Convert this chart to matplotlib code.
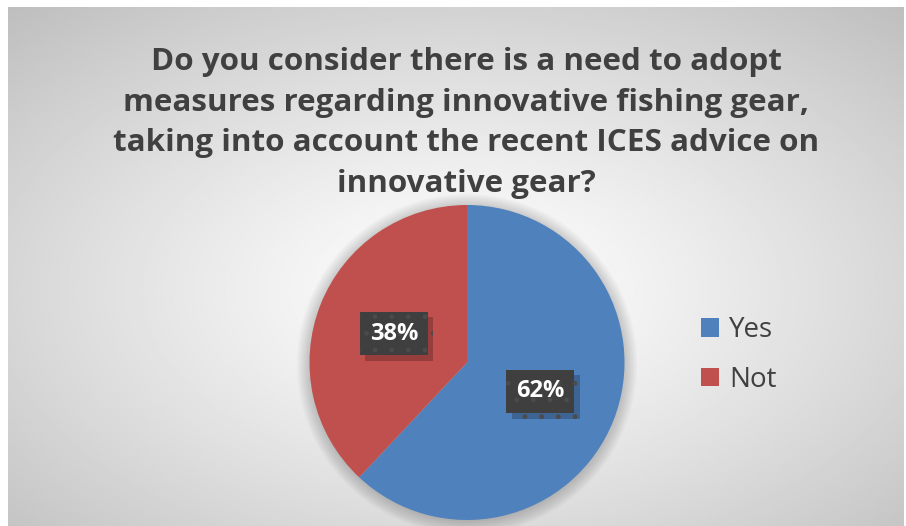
import numpy as np
import matplotlib
matplotlib.use("Agg")
import matplotlib.pyplot as plt
import matplotlib.patheffects as pe
from matplotlib.patches import Circle, Patch

# data
labels = ["Yes", "Not"]
values = [62, 38]
colors = ["#4F81BD", "#C0504D"]
title = ("Do you consider there is a need to adopt\n"
         "measures regarding innovative fishing gear,\n"
         "taking into account the recent ICES advice on\n"
         "innovative gear?")

W, H = 906, 526
fig = plt.figure(figsize=(W / 100, H / 100), dpi=100)
fig.patch.set_facecolor("white")

# chart area with radial gradient background
bg = fig.add_axes([0, 0, 1, 1])
bg.set_xlim(0, W)
bg.set_ylim(H, 0)
bg.axis("off")
x0, x1, y0, y1 = 8, 904, 7, 526
xx, yy = np.meshgrid(np.linspace(x0, x1, 400), np.linspace(y0, y1, 240))
cx, cy = 462, 290
r = np.sqrt(((xx - cx) / (x1 - x0) * 2) ** 2 + ((yy - cy) / (y1 - y0) * 2) ** 2) / np.sqrt(2)
shade = np.clip(1 - 0.24 * r ** 1.2, 0, 1)
bg.imshow(shade, cmap="gray", vmin=0, vmax=1, extent=[x0, x1, y1, y0],
          aspect="auto", interpolation="bilinear")

fig.text(466 / W, 1 - 123 / H, title, ha="center", va="center",
         fontsize=22.6, fontweight="bold", color="#404040",
         family="Open Sans", linespacing=1.46)

# pie
pcx, pcy, R = 467, 362.5, 157.5
ax = fig.add_axes([(pcx - R) / W, (H - pcy - R) / H, 2 * R / W, 2 * R / H])
ax.patch.set_alpha(0)

for i, rr in enumerate(np.linspace(1.08, 1.0, 10)):
    ax.add_patch(Circle((0.0, -0.01), rr, fc="black", ec="none",
                        alpha=0.018, zorder=0, clip_on=False))

wedges, texts, autotexts = ax.pie(
    values, colors=colors, startangle=90, counterclock=False, radius=1,
    autopct="%d%%", pctdistance=0.5,
    wedgeprops=dict(linewidth=0),
    textprops=dict(color="white", fontsize=17, fontweight="bold", family="Open Sans"))
ax.set_xlim(-1, 1)
ax.set_ylim(-1, 1)
ax.axis("off")

for t in autotexts:
    t.set_bbox(dict(boxstyle="square,pad=0.42", fc="#3f3f3f", ec="#4b4b4b",
                    hatch=".", lw=0))
    t.get_bbox_patch().set_path_effects(
        [pe.SimplePatchShadow(offset=(4, -4), shadow_rgbFace="black", alpha=0.22),
         pe.Normal()])
    t.set_zorder(4)

handles = [Patch(fc=c, ec="none") for c in colors]
fig.legend(handles, labels, loc="center left",
           bbox_to_anchor=(676 / W, 1 - 355 / H), frameon=False,
           handlelength=0.65, handleheight=0.65, handletextpad=0.35,
           labelspacing=0.78, labelcolor="#404040", prop=dict(family="Open Sans", size=20))

fig.savefig("out.png", dpi=100)
